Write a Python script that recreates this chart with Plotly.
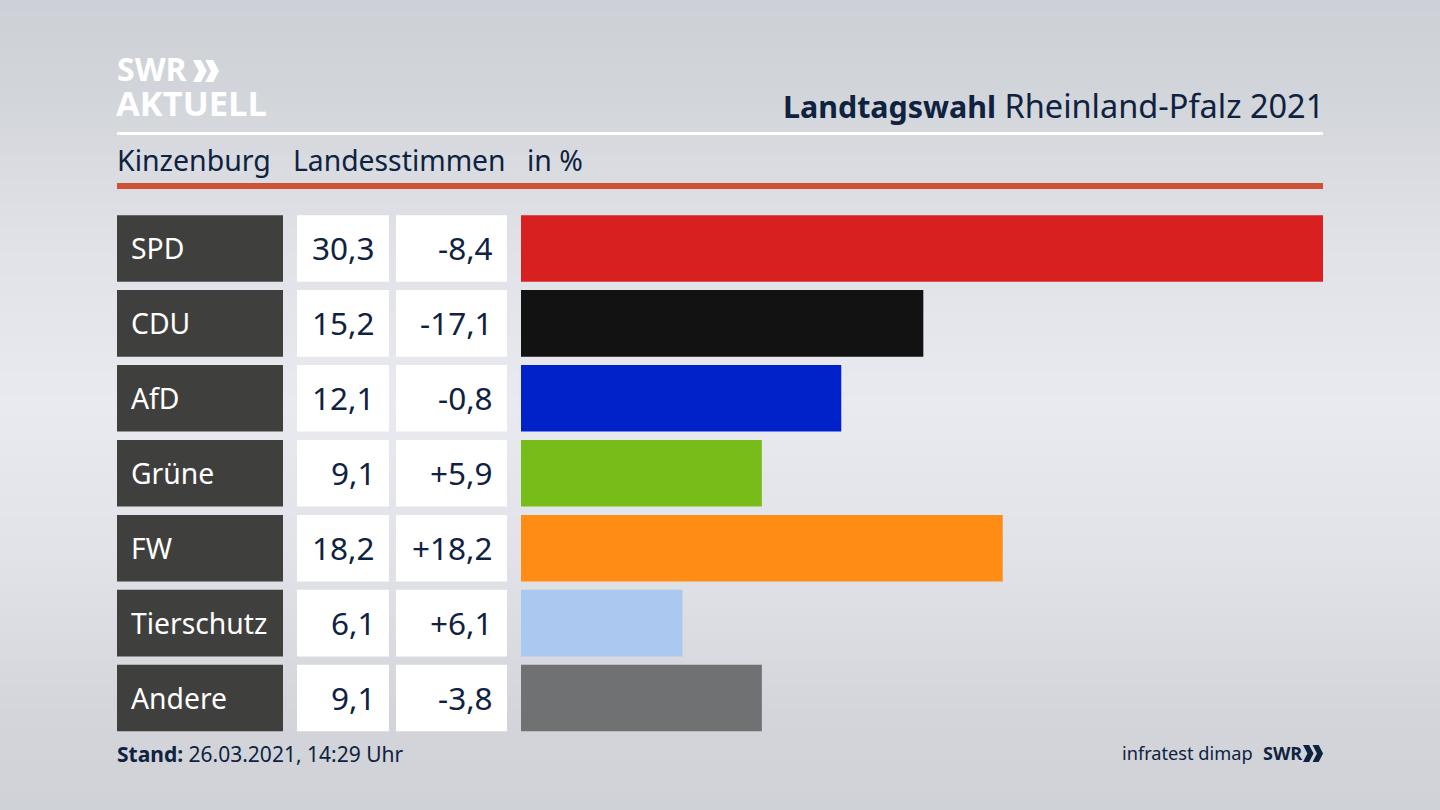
import plotly.graph_objects as go

parties = ["SPD", "CDU", "AfD", "Grüne", "FW", "Tierschutz", "Andere"]
shares = [30.3, 15.2, 12.1, 9.1, 18.2, 6.1, 9.1]
changes = [-8.4, -17.1, -0.8, 5.9, 18.2, 6.1, -3.8]
colors = ["#d7201f", "#121212", "#0022c8", "#78bc19", "#ff8c14", "#abc8f0", "#707173"]
gradient_stops = [0, 0.12, 0.3, 0.5, 0.7, 0.88, 1]
gradient_cols = ["#cdd0d6", "#d2d5da", "#e0e2e7", "#e9eaef", "#e0e2e7", "#d3d5da", "#cfd2d7"]

W, H = 1440, 810
NAVY = "#0f2240"
FONT = "Noto Sans"


def px(x):
    return x / W


def py(y):
    return 1 - y / H


def fmt(v, signed=False):
    s = f"{abs(v):.1f}".replace(".", ",")
    if signed:
        return ("+" if v > 0 else "-") + s
    return s


fig = go.Figure()
fig.add_trace(go.Bar(
    x=shares, y=parties, orientation="h", marker=dict(color=colors, line_width=0),
    width=0.888, showlegend=False, hoverinfo="x+y",
))

shapes = []
N = 135


def lerp(t):
    for i in range(len(gradient_stops) - 1):
        if gradient_stops[i] <= t <= gradient_stops[i + 1]:
            f = (t - gradient_stops[i]) / (gradient_stops[i + 1] - gradient_stops[i])
            a = gradient_cols[i]
            b = gradient_cols[i + 1]
            ca = [int(a[j:j + 2], 16) for j in (1, 3, 5)]
            cb = [int(b[j:j + 2], 16) for j in (1, 3, 5)]
            return "rgb(%d,%d,%d)" % tuple(round(ca[k] + (cb[k] - ca[k]) * f) for k in range(3))
    return gradient_cols[-1]


for i in range(N):
    shapes.append(dict(type="rect", xref="paper", yref="paper", x0=0, x1=1,
                       y0=1 - i / N, y1=1 - (i + 1) / N, fillcolor=lerp((i + .5) / N),
                       line_width=0, layer="below"))

shapes.append(dict(type="rect", xref="paper", yref="paper", x0=px(117), x1=px(1323), y0=py(132), y1=py(135),
                   fillcolor="white", line_width=0))
shapes.append(dict(type="rect", xref="paper", yref="paper", x0=px(117), x1=px(1323), y0=py(183), y1=py(189),
                   fillcolor="#cd5037", line_width=0))

half = 0.444
for i in range(len(parties)):
    for x0, x1, c in [(117, 283, "#3f403e"), (297, 389, "white"), (396, 507, "white")]:
        shapes.append(dict(type="rect", xref="paper", yref="y", x0=px(x0), x1=px(x1),
                           y0=i - half, y1=i + half, fillcolor=c, line_width=0))


def chevrons(x, y, h, color):
    w = h * 0.62
    t = h * 0.36
    d = ""
    for off in (0, h * 0.56):
        xx = x + off
        d += (f"M{px(xx)},{py(y)} L{px(xx + t)},{py(y)} L{px(xx + w)},{py(y + h / 2)} "
              f"L{px(xx + t)},{py(y + h)} L{px(xx)},{py(y + h)} L{px(xx + w - t)},{py(y + h / 2)} Z ")
    return dict(type="path", xref="paper", yref="paper", path=d, fillcolor=color, line_width=0)


shapes.append(chevrons(193, 60, 22, "white"))
shapes.append(chevrons(1303, 745, 17, NAVY))

ann = []


def text(x, y, s, size, color=NAVY, anchor="left", family=FONT, yref="paper", yshift=0):
    ann.append(dict(x=px(x), y=py(y) if yref == "paper" else y, xref="paper", yref=yref, text=s,
                    showarrow=False, xanchor=anchor, yanchor="middle", align=anchor,
                    font=dict(size=size, color=color, family=family), yshift=yshift,
                    borderpad=0, borderwidth=0))


for i, p in enumerate(parties):
    text(131, i, p, 28.3, "white", yref="y")
    text(375, i, fmt(shares[i]), 31.5, NAVY, "right", yref="y", yshift=1)
    text(493, i, fmt(changes[i], True), 31.5, NAVY, "right", yref="y", yshift=1)

text(117, 69, "<b>SWR</b>", 32, "white", family="Open Sans")
text(116, 103, "<b>AKTUELL</b>", 34.5, "white", family="Open Sans")
text(1324, 105.5,
     "<span style='font-size:30.4px'><b>Landtagswahl</b></span> Rheinland-Pfalz 2021",
     32.5, NAVY, "right")
text(117, 160, "Kinzenburg", 28.5)
text(293, 160, "Landesstimmen", 28.3)
text(527, 160, "in %", 28.4)
text(117, 754, "<b>Stand:</b> 26.03.2021, 14:29 Uhr", 21)
text(1122, 753, "infratest dimap", 18.2)
text(1302, 753, "<b>SWR</b>", 18, NAVY, "right", family="Open Sans")

fig.update_layout(
    width=W, height=H, margin=dict(l=0, r=0, t=0, b=0), autosize=False,
    paper_bgcolor="#e0e2e7", plot_bgcolor="rgba(0,0,0,0)",
    shapes=shapes, annotations=ann, showlegend=False,
    xaxis=dict(domain=[px(521), px(1323)], range=[0, max(shares)], visible=False, fixedrange=True),
    yaxis=dict(domain=[py(735.5), py(211)], categoryorder="array", categoryarray=parties,
               autorange="reversed", visible=False, fixedrange=True),
)
fig.write_html("out.html", config=dict(displayModeBar=False),
               post_script="document.body.style.margin='0';document.body.style.overflow='hidden';")
